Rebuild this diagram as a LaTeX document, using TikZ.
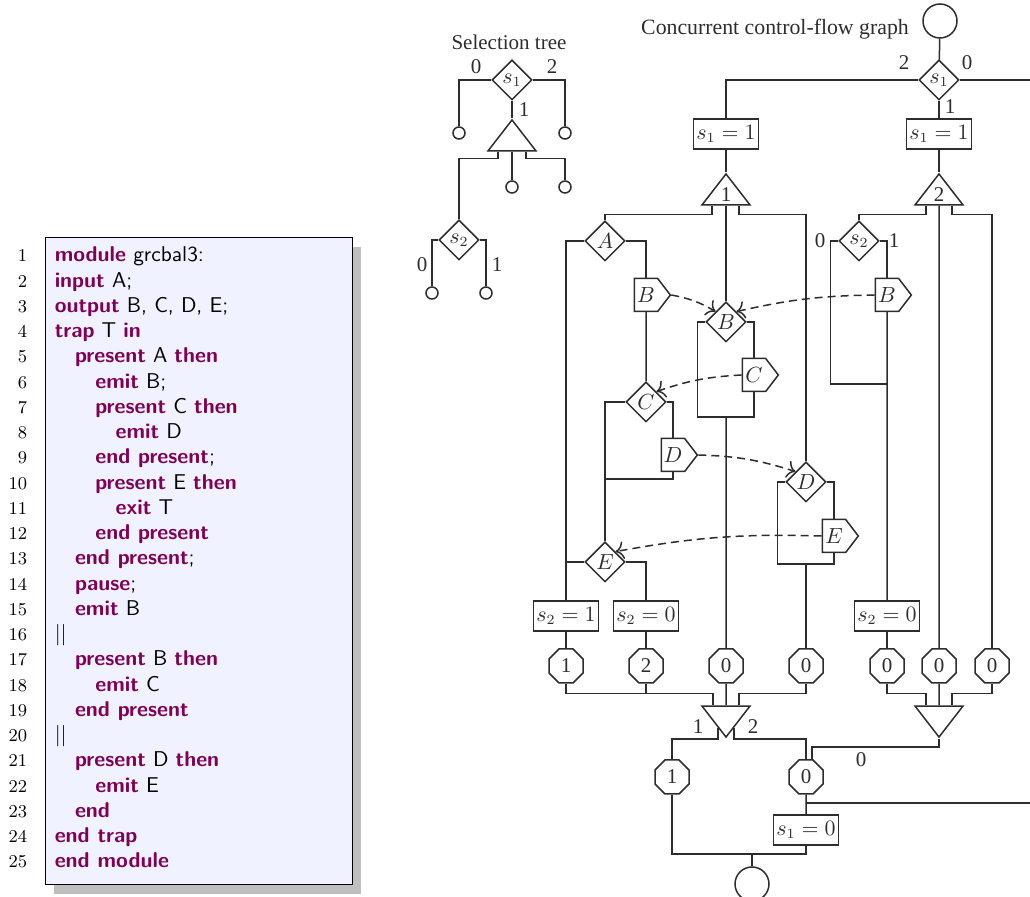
\documentclass[tikz,border=0pt]{standalone}
\usepackage{fontspec}
\usetikzlibrary{shapes.geometric,shapes.symbols,calc,arrows.meta}
\newfontfamily\gfont{Liberation Serif}
\definecolor{kwpurple}{RGB}{127,0,85}
\definecolor{listbg}{RGB}{240,242,255}
\definecolor{ink}{RGB}{45,45,45}
\newcommand\kw[1]{{\color{kwpurple}\bfseries #1}}
\newcommand\gsize{\fontsize{10.5}{12}\selectfont}

\tikzset{
  decision/.style={diamond, draw, inner sep=0pt, minimum width=20pt, minimum height=20pt, font=\gfont\gsize},
  emitter/.style={signal, signal to=east, signal from=nowhere, signal pointer angle=105, draw, inner sep=0pt,
    minimum width=18pt, minimum height=16.5pt, font=\gfont\gsize},
  action/.style={rectangle, draw, inner sep=1pt, minimum width=32.5pt, minimum height=15pt, font=\gfont\gsize},
  syncgate/.style={regular polygon, regular polygon sides=8, draw, inner sep=0pt, minimum size=18.4pt, font=\gfont\gsize},
  forkgate/.style={isosceles triangle, isosceles triangle stretches, shape border rotate=90, draw, inner sep=0pt,
    minimum width=24pt, minimum height=15.5pt, font=\gfont\gsize},
  joingate/.style={forkgate, shape border rotate=270},
  terminal/.style={circle, draw, inner sep=0pt, minimum size=17pt},
  leaf/.style={circle, draw, inner sep=0pt, minimum size=6pt},
  lbl/.style={inner sep=1pt, font=\gfont\gsize},
  sig/.style={dash pattern=on 4pt off 2.5pt, -{To[scale=1.3]}},
  codeline/.style={anchor=base west, inner sep=0pt, text=black, font=\sffamily\fontsize{10.7}{12}\selectfont},
  lineno/.style={anchor=base east, inner sep=0pt, text=black, font=\small}
}

\begin{document}
\begin{tikzpicture}[x=0.5pt,y=0.5pt,line width=0.75pt,color=ink]
\useasboundingbox (0,0) rectangle (1030,-897);

% program listing
\fill[black!25] (54,-247) rectangle (361,-894);
\draw[black,fill=listbg,line width=0.5pt] (45,-238) rectangle (352,-885);
\foreach \ind/\txt [count=\n] in {
  0/{\kw{module} grcbal3:},
  0/{\kw{input} A;},
  0/{\kw{output} B, C, D, E;},
  0/{\kw{trap} T \kw{in}},
  1/{\kw{present} A \kw{then}},
  2/{\kw{emit} B;},
  2/{\kw{present} C \kw{then}},
  3/{\kw{emit} D},
  2/{\kw{end present};},
  2/{\kw{present} E \kw{then}},
  3/{\kw{exit} T},
  2/{\kw{end present}},
  1/{\kw{end present};},
  1/{\kw{pause};},
  1/{\kw{emit} B},
  0/{||},
  1/{\kw{present} B \kw{then}},
  2/{\kw{emit} C},
  1/{\kw{end present}},
  0/{||},
  1/{\kw{present} D \kw{then}},
  2/{\kw{emit} E},
  1/{\kw{end}},
  0/{\kw{end trap}},
  0/{\kw{end module}}}
{
  \node[lineno] (ln\n) at (28,{-262-25.25*(\n-1)}) {\n};
  \node[codeline] (code\n) at ({54+20.3*\ind},{-262-25.25*(\n-1)}) {\txt};
}

% selection tree
\node[lbl] (sttitle) at (509,-42) {Selection tree};
\node[decision] (sts1) at (512,-80) {$s_1$};
\node[leaf] (stc0) at (459,-133) {};
\node[leaf] (stc2) at (565,-133) {};
\node[forkgate,anchor=apex] (stfk) at (512,-118) {};
\node[leaf] (stc1) at (512,-187) {};
\node[leaf] (stc3) at (565,-187) {};
\node[decision] (sts2) at (459,-240) {$s_2$};
\node[leaf] (stl0) at (432,-293) {};
\node[leaf] (stl1) at (486,-293) {};
\node[lbl] (stn0) at (476,-67) {0};
\node[lbl] (stn2) at (552,-67) {2};
\node[lbl] (stn1) at (524,-110) {1};
\node[lbl] (stm0) at (422,-265) {0};
\node[lbl] (stm1) at (497,-265) {1};
\draw (sts1.west) -| (stc0);
\draw (sts1.east) -| (stc2);
\draw (sts1.south) -- (stfk.apex);
\draw ($(stfk.lower side)+(-14,0)$) -- ++(0,-7) -| (sts2);
\draw (stfk.lower side) -- (stc1);
\draw ($(stfk.lower side)+(14,0)$) -- ++(0,-7) -| (stc3);
\draw (sts2.west) -| (stl0);
\draw (sts2.east) -| (stl1);

% concurrent control-flow graph
\node[lbl,font=\gfont\fontsize{10.9}{13}\selectfont] (cctitle) at (775,-29) {Concurrent control-flow graph};
\node[terminal] (start) at (940,-21) {};
\node[decision] (cs1) at (939,-80) {$s_1$};
\node[lbl] (csn2) at (904,-63) {2};
\node[lbl] (csn0) at (967,-63) {0};
\node[lbl] (csn1) at (950,-107) {1};
\coordinate (exitTop) at (1030,-80);
\node[action] (setL) at (726,-134) {$s_1 = 1$};
\node[action] (setR) at (939,-134) {$s_1 = 1$};
\node[forkgate,anchor=apex] (fkL) at (726,-172) {1};
\node[forkgate,anchor=apex] (fkR) at (939,-172) {2};
\draw (start) -- (cs1);
\draw (cs1.east) -- (exitTop);
\draw (cs1.west) -| (setL);
\draw (cs1) -- (setR);
\draw (setL) -- (fkL.apex);
\draw (setR) -- (fkR.apex);

% first thread
\node[decision] (tA) at (605,-241) {$A$};
\node[emitter] (eB1) at (646,-295) {$B$};
\node[decision] (tC) at (646,-402) {$C$};
\node[emitter] (eD) at (673,-455) {$D$};
\coordinate (jC) at (605,-479);
\node[decision] (tE) at (605,-562) {$E$};
\node[action] (s2one) at (566,-616) {$s_2 = 1$};
\node[action] (s2zero) at (646,-616) {$s_2 = 0$};
\draw ($(fkL.lower side)+(-14,0)$) -- ++(0,-9) -| (tA);
\draw (tA.west) -| (s2one);
\draw (tA.east) -| (eB1);
\draw (eB1) -- (tC);
\draw (tC.west) -| (tE);
\draw (tC.east) -| (eD);
\draw (eD) |- (jC);
\draw (tE.west) -- (tE.west -| s2one);
\draw (tE.east) -| (s2zero);

% second thread
\node[decision] (tB) at (726,-322) {$B$};
\node[emitter] (eC) at (754,-375) {$C$};
\coordinate (jB) at (726,-417);
\draw (fkL.lower side) -- (tB);
\draw (tB.west) -- ++(-8,0) |- (eC |- jB) -- (eC);
\draw (tB.east) -| (eC);

% third thread
\node[decision] (tD) at (806,-482) {$D$};
\node[emitter] (eE) at (834,-536) {$E$};
\coordinate (jD) at (806,-564);
\draw ($(fkL.lower side)+(13,0)$) -- ++(0,-9) -| (tD);
\draw (tD.west) -- ++(-8,0) |- (eE |- jD) -- (eE);
\draw (tD.east) -| (eE);

% threads of the pause state
\node[decision] (ts2) at (859,-241) {$s_2$};
\node[lbl] (tsn0) at (820,-241) {0};
\node[lbl] (tsn1) at (894,-241) {1};
\node[emitter] (eB2) at (887,-295) {$B$};
\coordinate (js2) at (887,-384);
\node[action] (s2zeroR) at (887,-616) {$s_2 = 0$};
\draw ($(fkR.lower side)+(-13,0)$) -- ++(0,-9) -| (ts2);
\draw (ts2.west) -- ++(-8,0) |- (js2);
\draw (ts2.east) -| (eB2);
\draw (eB2) -- (s2zeroR);

% completion codes
\node[syncgate] (k1) at (566,-666) {1};
\node[syncgate] (k2) at (646,-666) {2};
\node[syncgate] (k3) at (726,-666) {0};
\node[syncgate] (k4) at (806,-666) {0};
\node[syncgate] (k5) at (887,-666) {0};
\node[syncgate] (k6) at (939,-666) {0};
\node[syncgate] (k7) at (992,-666) {0};
\draw (s2one) -- (k1);
\draw (s2zero) -- (k2);
\draw (jB) -- (k3);
\draw (jD) -- (k4);
\draw (s2zeroR) -- (k5);
\draw (fkR.lower side) -- (k6);
\draw ($(fkR.lower side)+(13,0)$) -- ++(0,-9) -| (k7);

% synchronizers
\node[joingate,anchor=apex] (jnL) at (726,-739) {};
\node[joingate,anchor=apex] (jnR) at (939,-739) {};
\coordinate (inL1) at ($(jnL.lower side)+(-13,0)$);
\coordinate (inL2) at ($(jnL.lower side)+(13,0)$);
\coordinate (inR1) at ($(jnR.lower side)+(-13,0)$);
\coordinate (inR2) at ($(jnR.lower side)+(13,0)$);
\draw (k1.south) -- ++(0,-10) -| (inL1);
\draw (k2.south) -- ++(0,-10);
\draw (k3) -- (jnL.lower side);
\draw (k4.south) -- ++(0,-10) -| (inL2);
\draw (k5.south) -- ++(0,-10) -| (inR1);
\draw (k6) -- (jnR.lower side);
\draw (k7.south) -- ++(0,-10) -| (inR2);
\node[lbl] (jn1) at (698,-727) {1};
\node[lbl] (jn2) at (753,-727) {2};
\node[lbl] (jr0) at (861,-760) {0};

\node[syncgate] (k8) at (672,-777) {1};
\node[syncgate] (k9) at (806,-777) {0};
\node[action] (s1zero) at (806,-830) {$s_1 = 0$};
\coordinate (exitBot) at (1030,-803);
\coordinate (jEnd) at (752,-854);
\node[terminal] (stop) at (752,-884) {};
\draw ($(jnL.apex)+(-8,11)$) -- ++(0,-11) -| (k8);
\draw ($(jnL.apex)+(8,11)$) -- ++(0,-11) -| (k9);
\draw (jnR.apex) -- ++(0,-8) -| ($(k9.north)+(6,0)$);
\draw (k9) -- (s1zero);
\draw (k9.south |- exitBot) -- (exitBot);
\draw (k8.south) |- (s1zero.south |- jEnd) -- (s1zero.south);
\draw (jEnd) -- (stop);

% signal dependencies
\draw[sig] (eB1.east) to[bend left=10] (tB.north west);
\draw[sig] (eB2.west) to[bend right=6] (tB.north east);
\draw[sig] (eC.west) to[bend right=8] (tC.north east);
\draw[sig] (eD.east) to[bend left=8] (tD.north west);
\draw[sig] (eE.west) to[bend right=6] (tE.north east);
\end{tikzpicture}
\end{document}
